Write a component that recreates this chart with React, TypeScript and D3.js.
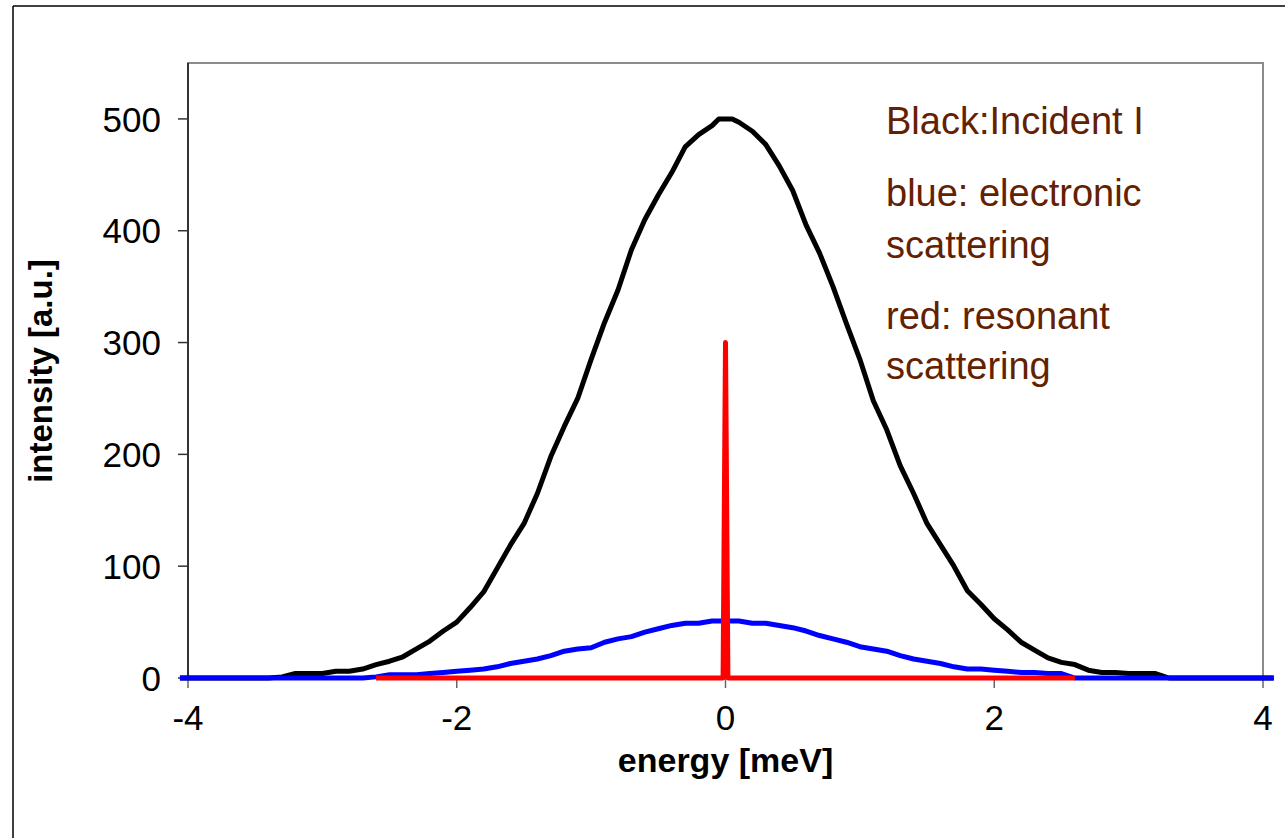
import React from "react";
import * as d3 from "d3";

// ---- data ----
const energyGrid: number[] = [
  -4.06, -4.0, -3.9, -3.8, -3.7, -3.6, -3.5, -3.4, -3.3, -3.2, -3.1, -3.0, -2.9, -2.8, -2.7, -2.6, -2.5, -2.4, -2.3,
  -2.2, -2.1, -2.0, -1.9, -1.8, -1.7, -1.6, -1.5, -1.4, -1.3, -1.2, -1.1, -1.0, -0.9, -0.8, -0.7, -0.6, -0.5, -0.4,
  -0.3, -0.2, -0.1, -0.05, 0.0, 0.05, 0.1, 0.2, 0.3, 0.4, 0.5, 0.6, 0.7, 0.8, 0.9, 1.0, 1.1, 1.2, 1.3, 1.4, 1.5, 1.6,
  1.7, 1.8, 1.9, 2.0, 2.1, 2.2, 2.3, 2.4, 2.5, 2.6, 2.7, 2.8, 2.9, 3.0, 3.1, 3.2, 3.3, 3.4, 3.5, 3.6, 3.7, 3.8, 3.9,
  4.0, 4.08,
];

const incidentBlack: number[] = [
  0, 0, 0, 0, 0, 0, 0, 0, 1, 4, 4, 4, 6, 6, 8, 12, 15, 19, 26,
  33, 42, 50, 63, 77, 98, 119, 138, 165, 198, 225, 250, 285, 318, 347, 383, 410, 432, 452,
  475, 486, 494, 500, 500, 500, 497, 489, 477, 458, 436, 405, 380, 350, 317, 285, 248, 222, 190, 165, 138, 119,
  100, 78, 66, 53, 43, 32, 25, 18, 14, 12, 7, 5, 5, 4, 4, 4, 0, 0, 0, 0, 0, 0, 0,
  0, 0,
];

const electronicBlue: number[] = [
  0, 0, 0, 0, 0, 0, 0, 0, 0, 0, 0, 0, 0, 0, 0, 1, 3, 3, 3,
  4, 5, 6, 7, 8, 10, 13, 15, 17, 20, 24, 26, 27, 32, 35, 37, 41, 44, 47,
  49, 49, 51, 51, 51, 51, 51, 49, 49, 47, 45, 42, 38, 35, 32, 28, 26, 24, 20, 17, 15, 13,
  10, 8, 8, 7, 6, 5, 5, 4, 4, 0, 0, 0, 0, 0, 0, 0, 0, 0, 0, 0, 0, 0, 0,
  0, 0,
];

const resonantEnergy: number[] = [-2.6, -0.018, 0, 0.018, 2.6];
const resonantRed: number[] = [0, 0, 300, 0, 0];

const xTicks: number[] = [-4, -2, 0, 2, 4];
const yTicks: number[] = [0, 100, 200, 300, 400, 500];

const noteLines: string[][] = [
  ["Black:Incident I"],
  ["blue: electronic", "scattering"],
  ["red: resonant", "scattering"],
];

// ---- layout ----
const W = 1285;
const H = 838;
const PL = 188, PR = 1263, PT = 63, PB = 678;
const FONT = "Arial, 'Liberation Sans', Helvetica, sans-serif";
const NOTE_COLOR = "#632100";

export default function App() {
  const x = d3.scaleLinear().domain([-4, 4]).range([PL, PR]);
  const y = d3.scaleLinear().domain([0, 550]).range([PB, PT]);

  const line = d3
    .line<[number, number]>()
    .x((d) => x(d[0]))
    .y((d) => y(d[1]));

  const blackPts = energyGrid.map((e, i) => [e, incidentBlack[i]] as [number, number]);
  const bluePts = energyGrid.map((e, i) => [e, electronicBlue[i]] as [number, number]);
  const redPts = resonantEnergy.map((e, i) => [e, resonantRed[i]] as [number, number]);

  const noteBaselines = [134, 206, 258, 329, 379];
  let k = 0;
  const noteTexts: { t: string; yb: number }[] = [];
  noteLines.forEach((block) => block.forEach((t) => noteTexts.push({ t, yb: noteBaselines[k++] })));

  return (
    <svg
      width={W}
      height={H}
      style={{ position: "absolute", left: 0, top: 0, background: "#fff" }}
      fontFamily={FONT}
    >
      <rect x={0} y={0} width={W} height={H} fill="#fff" />
      {/* outer chart border */}
      <line x1={13} y1={6} x2={W} y2={6} stroke="#000" strokeWidth={1.5} />
      <line x1={13} y1={6} x2={13} y2={H} stroke="#000" strokeWidth={1.5} />

      {/* plot area border */}
      <rect x={PL} y={PT} width={PR - PL} height={PB - PT} fill="none" stroke="#8c8c8c" strokeWidth={2} />
      {/* y axis */}
      <line x1={PL} y1={PT} x2={PL} y2={PB} stroke="#333" strokeWidth={2} />
      {yTicks.map((v) => (
        <g key={"yt" + v}>
          <line x1={PL - 10} x2={PL} y1={y(v)} y2={y(v)} stroke="#333" strokeWidth={1.5} />
          <text x={PL - 27} y={y(v)} dy="0.36em" textAnchor="end" fontSize={35} fill="#000">
            {v}
          </text>
        </g>
      ))}
      {/* x axis */}
      <line x1={PL} y1={PB} x2={PR} y2={PB} stroke="#333" strokeWidth={2} />
      {xTicks.map((v) => (
        <g key={"xt" + v}>
          <line x1={x(v)} x2={x(v)} y1={PB} y2={PB + 10} stroke="#666" strokeWidth={1.5} />
          <text x={x(v)} y={730} textAnchor="middle" fontSize={35} fill="#000">
            {v}
          </text>
        </g>
      ))}

      {/* series */}
      <path d={line(blackPts) || ""} fill="none" stroke="#000" strokeWidth={5} strokeLinejoin="round" />
      <path d={line(bluePts) || ""} fill="none" stroke="#0000ff" strokeWidth={5} strokeLinejoin="round" />
      <path d={line(redPts) || ""} fill="none" stroke="#ff0000" strokeWidth={5} strokeLinejoin="round" />

      {/* axis titles */}
      <text x={x(0)} y={772} textAnchor="middle" fontSize={34} fontWeight="bold" fill="#000">
        energy [meV]
      </text>
      <text
        transform={`translate(52, 371) rotate(-90)`}
        textAnchor="middle"
        fontSize={33}
        fontWeight="bold"
        fill="#000"
      >
        intensity [a.u.]
      </text>

      {/* annotation */}
      {noteTexts.map((n, i) => (
        <text key={"n" + i} x={886} y={n.yb} fontSize={38} fill={NOTE_COLOR}>
          {n.t}
        </text>
      ))}
    </svg>
  );
}
